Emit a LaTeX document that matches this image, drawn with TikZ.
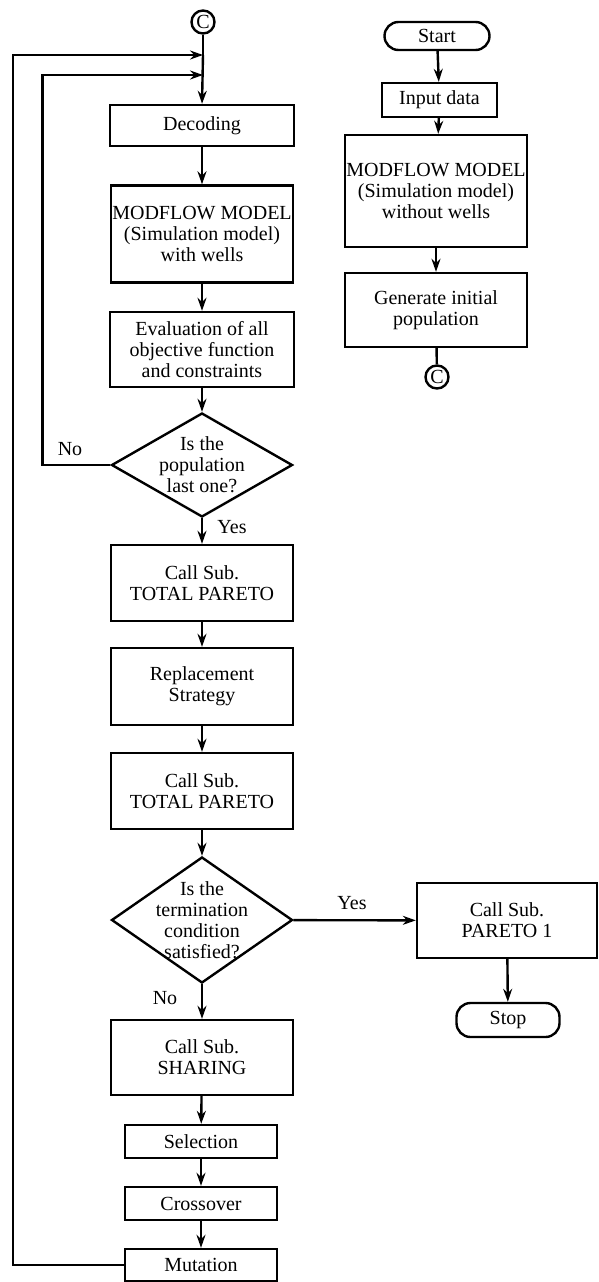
\documentclass[tikz,border=0pt]{standalone}
\usepackage{fontspec}
\setmainfont{Liberation Serif}
\usetikzlibrary{shapes.geometric,arrows.meta}
\begin{document}
\begin{tikzpicture}[x=1pt,y=-1pt,
  every node/.style={font=\fontsize{20}{21}\selectfont},
  box/.style={draw,line width=2.4pt,rectangle,align=center,inner sep=0pt},
  term/.style={draw,line width=2.4pt,rectangle,rounded corners=14pt,align=center,inner sep=0pt},
  conn/.style={draw,line width=2.4pt,circle,inner sep=0pt,minimum size=23pt},
  dec/.style={draw,line width=2.4pt,diamond,inner sep=0pt},
  dtext/.style={align=center},
  flow/.style={line width=2.4pt,-{Stealth[length=13pt,width=9pt]}},
  plain/.style={line width=2.4pt}]
\useasboundingbox (0,0) rectangle (599,1282);

% left column
\node[conn] (c1) at (203,22) {C};
\coordinate (j1) at (203,55);
\coordinate (j2) at (203,75);
\node[box,minimum width=184pt,minimum height=41pt] (deco) at (202,125.5) {Decoding};
\node[box,minimum width=182pt,minimum height=97pt] (mw) at (202,234) {MODFLOW MODEL\\(Simulation model)\\with wells};
\node[box,minimum width=184pt,minimum height=75pt] (ev) at (202,349.5) {Evaluation of all\\objective function\\and constraints};
\node[dec,minimum width=181pt,minimum height=104pt,label={[dtext]center:Is the\\population\\last one?}] (d1) at (202,465) {};
\node[box,minimum width=182pt,minimum height=76pt] (tp1) at (202,583) {Call Sub.\\TOTAL PARETO};
\node[box,minimum width=182pt,minimum height=77pt] (rep) at (202,686.5) {Replacement\\Strategy};
\node[box,minimum width=182pt,minimum height=76pt] (tp2) at (202,791) {Call Sub.\\TOTAL PARETO};
\node[dec,minimum width=181pt,minimum height=126pt,label={[dtext]center:Is the\\termination\\condition\\satisfied?}] (d2) at (202,920) {};
\node[box,minimum width=182pt,minimum height=75pt] (sh) at (202,1057.5) {Call Sub.\\SHARING};
\node[box,minimum width=152pt,minimum height=33pt] (sel) at (201,1141.5) {Selection};
\node[box,minimum width=152pt,minimum height=33pt] (cro) at (201,1203.5) {Crossover};
\node[box,minimum width=152pt,minimum height=32pt] (mut) at (201,1265) {Mutation};

% right column
\node[term,minimum width=105pt,minimum height=28pt] (start) at (437,36) {Start};
\node[box,minimum width=115pt,minimum height=34pt] (inp) at (439.5,100) {Input data};
\node[box,minimum width=182pt,minimum height=112pt] (mwo) at (436,191) {MODFLOW MODEL\\(Simulation model)\\without wells};
\node[box,minimum width=182pt,minimum height=74pt] (gen) at (436,310) {Generate initial\\population};
\node[conn] (c2) at (437,377) {C};
\node[box,minimum width=180pt,minimum height=75pt] (p1) at (507,920.5) {Call Sub.\\PARETO 1};
\node[term,minimum width=103pt,minimum height=34pt] (stop) at (508,1020) {Stop};

% labels
\node (no1) at (70,449) {No};
\node (yes1) at (232,527) {Yes};
\node (yes2) at (352,903) {Yes};
\node (no2) at (165,998) {No};

% connectors
\draw[plain] (c1) -- (j1);
\draw[flow] (j1) -- (deco.north);
\draw[flow] (deco) -- (mw);
\draw[flow] (mw) -- (ev);
\draw[flow] (ev) -- (d1);
\draw[flow] (d1) -- (tp1);
\draw[flow] (tp1) -- (rep);
\draw[flow] (rep) -- (tp2);
\draw[flow] (tp2) -- (d2);
\draw[flow] (d2) -- (sh);
\draw[flow] (d2) -- (p1);
\draw[flow] (p1) -- (stop);
\draw[flow] (sh) -- (sel);
\draw[flow] (sel) -- (cro);
\draw[flow] (cro) -- (mut);
\draw[flow] (d1.west) -- ++(-68,0) |- (j2);
\draw[flow] (mut.west) -- ++(-111,0) |- (j1);
\draw[flow] (start) -- (inp);
\draw[flow] (inp) -- (mwo);
\draw[flow] (mwo) -- (gen);
\draw[plain] (gen) -- (c2);
\end{tikzpicture}
\end{document}
